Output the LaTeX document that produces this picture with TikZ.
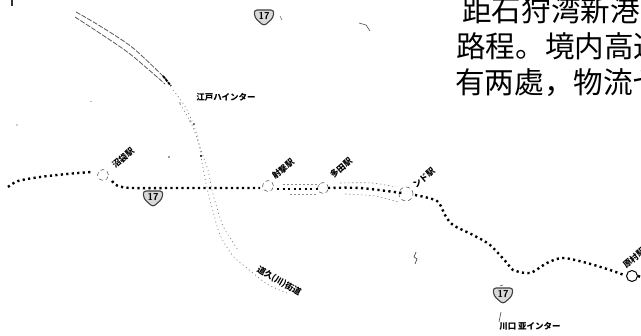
\documentclass[tikz,border=0pt]{standalone}
\usepackage{fontspec}
\newfontfamily\cjk{Noto Sans CJK JP}
\usetikzlibrary{calc}
\tikzset{
  expressway/.style={line width=2.4pt,black,dash pattern=on 2.2pt off 3.3pt},
  sideroad/.style={line width=.7pt,black!50,dash pattern=on 1pt off 3pt},
  upperroad/.style={line width=.8pt,black!65,dash pattern=on 5pt off 1.5pt},
  faintroad/.style={line width=.6pt,black!45,dash pattern=on 1.5pt off 2.5pt},
  junction/.style={circle,draw=black!60,line width=.6pt,dash pattern=on 4pt off 3pt,minimum size=11pt,inner sep=0pt},
  maplabel/.style={font=\cjk\bfseries\fontsize{8.5}{9}\selectfont,inner sep=0pt,black},
  bodytext/.style={font=\cjk\fontsize{29.6}{36}\selectfont,inner sep=0pt,anchor=west},
  speck/.style={fill=black!80},
  shield/.pic={
    \draw[black!75,line width=1.1pt,fill=black!15,rounded corners=3pt]
      (-10,-7) -- (10,-7) -- (9,1) -- (0,9) -- (-9,1) -- cycle;
    \node[font=\sffamily\bfseries\fontsize{10}{10}\selectfont,inner sep=0pt] at (0,-1.5) {17};
  }
}
\begin{document}
\begin{tikzpicture}[x=1pt,y=-1pt]
\path[use as bounding box,fill=white] (0,0) rectangle (641,336);
\clip (0,0) rectangle (641,336);

% body text
\node[bodytext] (lineone) at (462,10) {距石狩湾新港間};
\node[bodytext] (linetwo) at (456,46) {路程。境内高速};
\node[bodytext] (linethree) at (455,83) {有两處，物流セ};

% upper double road
\draw[upperroad] plot[smooth] coordinates {(76,12) (100,26) (133,48) (167,80)};
\draw[upperroad] plot[smooth] coordinates {(75,17) (98,32) (130,54) (165,84)};
\draw[black,line width=1.8pt,dash pattern=on 3pt off 1pt] (163,76) -- (171,86);

% crossing road
\draw[sideroad] plot[smooth] coordinates {(173,90) (186,108) (197,135) (203,168) (207,188) (213,211) (220,235) (233,256) (247,268) (267,284) (287,293)};
\draw[sideroad] plot[smooth] coordinates {(180,104) (192,125) (201,150) (208,170) (212,190) (217,208) (224,228) (238,250)};
\fill[black] (201,156) circle (1.2pt) (194,124) circle (.8pt) (180,103) circle (.7pt);

% faint parallel traces along the expressway
\draw[faintroad] (283,184) -- (320,184) (290,194) -- (318,194);
\draw[faintroad] plot[smooth] coordinates {(340,183) (372,183) (396,187)};
\draw[faintroad] plot[smooth] coordinates {(345,194) (375,196) (398,202)};

% expressway
\coordinate (west) at (8,187);
\coordinate (east) at (641,277);
\node[junction] (jone) at (103,175) {};
\node[junction] (jtwo) at (268,186) {};
\node[junction] (jthree) at (323,188) {};
\node[junction,minimum size=14pt] (jfour) at (406,194) {};
\node[junction,draw=black,line width=1pt,solid,minimum size=11pt] (jfive) at (632,276) {};
\draw[expressway] plot[smooth] coordinates {(west) (18,181) (40,177) (67,174) (91,172)};
\draw[expressway] plot[smooth] coordinates {(112,181) (118,186) (133,188) (180,188) (260,188)};
\draw[expressway] (277,189) -- (318,189);
\draw[expressway] plot[smooth] coordinates {(328,188) (360,188) (402,193)};
\draw[expressway] plot[smooth,tension=.5] coordinates {(415,195) (437,201) (445,215) (453,225) (473,235) (490,245) (507,263) (513,270) (530,273) (547,263) (563,258) (587,263) (610,270) (624,275)};
\draw[expressway] (jfive.east) -- (east);

% shields
\pic at (264,17) {shield};
\pic at (153,198) {shield};
\pic at (503,295) {shield};

% labels
\node[maplabel] (ictop) at (226,97) {江戸ハインター};
\node[maplabel] (icbottom) at (530,326) {川口 亚インター};
\node[maplabel,rotate=40] (lone) at (123,158) {沼袋駅};
\node[maplabel,rotate=40] (ltwo) at (283,169) {射撃駅};
\node[maplabel,rotate=40] (lthree) at (341,168) {多田駅};
\node[maplabel,rotate=40] (lfour) at (424,178) {ンド駅};
\node[maplabel,rotate=40] (lfive) at (634,258) {原村駅};
\node[maplabel,rotate=-30] (lroad) at (279,281) {道久(川)街道};

% specks
\fill[speck] (11,0) rectangle (13,6);
\fill[speck] (91,101.5) circle (.5pt) (17,125) circle (.6pt) (169,157) circle (.9pt) (190,121) circle (.6pt);
\draw[black!70,line width=.6pt] (359,23) -- (366,25) -- (370,31);
\draw[black!70,line width=.7pt] (416,252) -- (414,257) -- (417,259) -- (415,264);
\draw[black!70,line width=.6pt] (501,312) -- (499,322) (500,286) -- (503,285);
\draw[black!60,line width=.5pt] (280,16) -- (282,20);
\end{tikzpicture}
\end{document}
